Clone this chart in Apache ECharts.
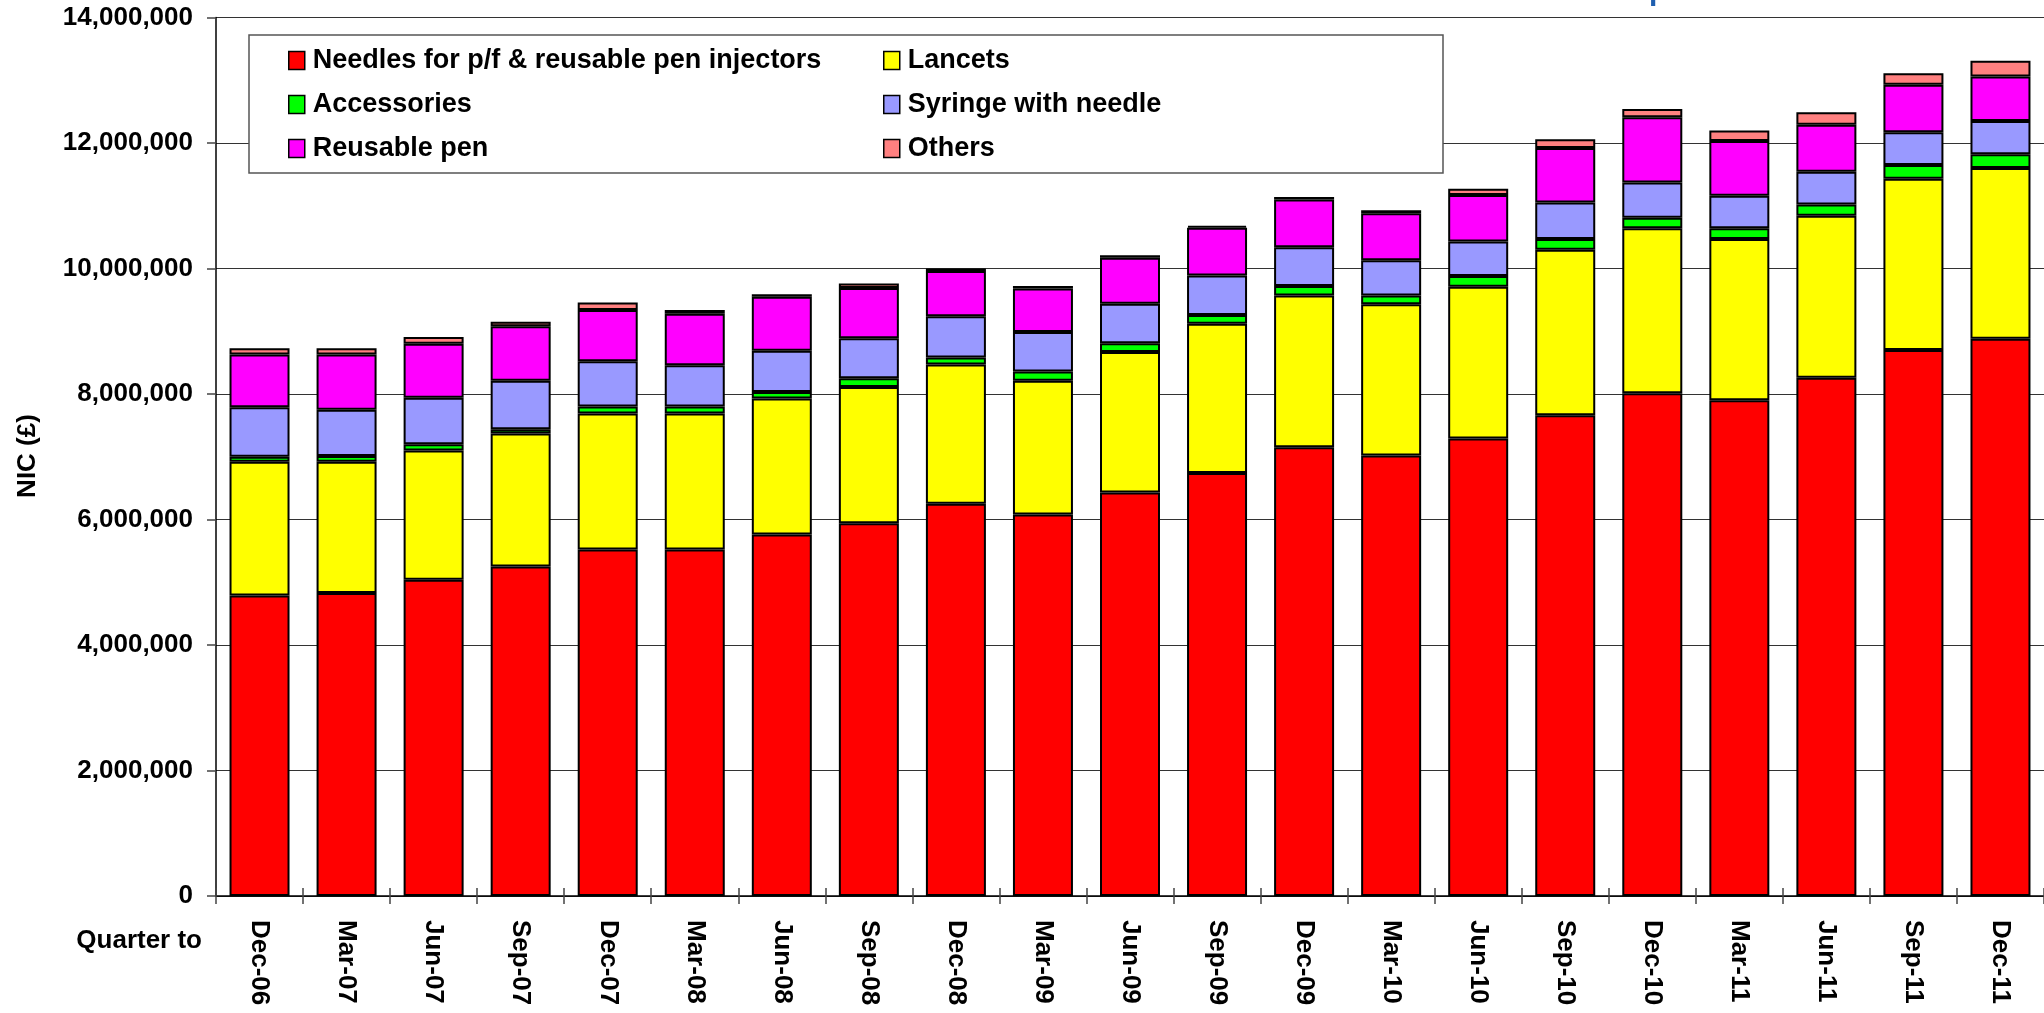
<!DOCTYPE html>
<html>
<head>
<meta charset="utf-8">
<script src="https://cdn.jsdelivr.net/npm/echarts@6/dist/echarts.min.js"></script>
<style>
html,body{margin:0;padding:0;background:#fff;}
#chart{width:2044px;height:1013px;}
</style>
</head>
<body>
<div id="chart"></div>
<script>
const categories = ['Dec-06','Mar-07','Jun-07','Sep-07','Dec-07','Mar-08','Jun-08','Sep-08','Dec-08','Mar-09','Jun-09','Sep-09','Dec-09','Mar-10','Jun-10','Sep-10','Dec-10','Mar-11','Jun-11','Sep-11','Dec-11'];

const needles     = [4790000,4830000,5040000,5250000,5520000,5520000,5760000,5940000,6250000,6080000,6430000,6740000,7150000,7020000,7290000,7660000,8010000,7900000,8260000,8700000,8880000];
const lancets     = [2130000,2090000,2060000,2120000,2170000,2170000,2170000,2170000,2220000,2130000,2240000,2380000,2420000,2410000,2420000,2640000,2630000,2570000,2580000,2730000,2720000];
const accessories = [80000,90000,100000,70000,110000,110000,100000,140000,110000,150000,140000,140000,150000,140000,170000,170000,170000,170000,180000,220000,220000];
const syringe     = [790000,740000,740000,770000,720000,660000,660000,640000,660000,630000,630000,630000,620000,560000,550000,580000,560000,520000,520000,520000,530000];
const reusablePen = [840000,880000,860000,870000,820000,820000,860000,800000,720000,690000,730000,760000,760000,750000,740000,870000,1040000,870000,750000,760000,710000];
const others      = [100000,100000,110000,70000,120000,60000,40000,70000,40000,40000,40000,30000,40000,50000,100000,140000,130000,170000,200000,180000,250000];

const seriesNames = ['Needles for p/f & reusable pen injectors','Lancets','Accessories','Syringe with needle','Reusable pen','Others'];
const seriesColors = ['#FF0000','#FFFF00','#00FF00','#9999FF','#FF00FF','#FF8080'];
const seriesValues = [needles, lancets, accessories, syringe, reusablePen, others];

const yMin = 0, yMax = 14000000, yInterval = 2000000;
const yAxisTitle = 'NIC (£)';
const xAxisTitle = 'Quarter to';

const FONT = "'Liberation Sans', Arial, sans-serif";

const chart = echarts.init(document.getElementById('chart'), null, {renderer:'canvas'});

const series = seriesNames.map((name, i) => ({
  name: name,
  type: 'bar',
  stack: 'total',
  barWidth: 60,
  data: seriesValues[i],
  itemStyle: { color: seriesColors[i], borderColor: '#000', borderWidth: 2 },
  emphasis: { disabled: true }
}));

const legendCommon = {
  orient: 'vertical',
  top: 42,
  itemWidth: 16,
  itemHeight: 18,
  itemGap: 17,
  icon: 'rect',
  z: 20,
  selectedMode: false,
  itemStyle: { borderColor: '#000', borderWidth: 1.5 },
  textStyle: { fontFamily: FONT, fontWeight: 'bold', fontSize: 27, color: '#000', lineHeight: 27, padding: [0,0,0,3] }
};

chart.setOption({
  animation: false,
  backgroundColor: '#fff',
  grid: { left: 216, top: 17.5, width: 1837.5, height: 878.5, containLabel: false },
  legend: [
    Object.assign({}, legendCommon, { left: 283, data: [seriesNames[0], seriesNames[2], seriesNames[4]] }),
    Object.assign({}, legendCommon, { left: 878, data: [seriesNames[1], seriesNames[3], seriesNames[5]] })
  ],
  xAxis: [
    {
      type: 'category',
      position: 'bottom',
      data: categories,
      axisLine: { show: true, lineStyle: { color: '#000', width: 1.5 } },
      axisTick: { show: true, inside: false, length: 8, lineStyle: { color: '#444', width: 1.5 } },
      axisLabel: { interval: 0, rotate: -90, margin: 24, fontFamily: FONT, fontWeight: 'bold', fontSize: 26, color: '#000' },
      splitLine: { show: false }
    },
    {
      type: 'category',
      position: 'bottom',
      data: categories,
      axisLine: { show: false },
      axisTick: { show: true, inside: true, length: 8, lineStyle: { color: '#444', width: 1.5 } },
      axisLabel: { show: false },
      splitLine: { show: false }
    }
  ],
  yAxis: {
    type: 'value',
    min: yMin, max: yMax, interval: yInterval,
    axisLine: { show: true, lineStyle: { color: '#000', width: 1.5 } },
    axisTick: { show: true, inside: false, length: 9, lineStyle: { color: '#444', width: 1.5 } },
    axisLabel: { margin: 23, fontFamily: FONT, fontWeight: 'bold', fontSize: 26, color: '#000',
      formatter: v => v.toLocaleString('en-US') },
    splitLine: { show: true, lineStyle: { color: '#333', width: 1.2 } }
  },
  graphic: [
    { type: 'rect', z: 10, shape: { x: 249, y: 35, width: 1194, height: 138 },
      style: { fill: '#fff', stroke: '#555', lineWidth: 1.5 } },
    { type: 'text', z: 10, x: 28, y: 456, rotation: Math.PI / 2,
      style: { text: yAxisTitle, font: "bold 26px 'Liberation Sans', Arial, sans-serif", fill: '#000', textAlign: 'center', textVerticalAlign: 'middle', align: 'center', verticalAlign: 'middle' } },
    { type: 'text', z: 10, x: 202, y: 941,
      style: { text: xAxisTitle, font: "bold 26px 'Liberation Sans', Arial, sans-serif", fill: '#000', textAlign: 'right', textVerticalAlign: 'middle', align: 'right', verticalAlign: 'middle' } },
    { type: 'text', z: 10, x: 1649, y: -23,
      style: { text: 'p', font: "bold 30px 'Liberation Sans', Arial, sans-serif", fill: '#1F5FAF', textAlign: 'left', textVerticalAlign: 'top', align: 'left', verticalAlign: 'top' } }
  ],
  series: series
});
</script>
</body>
</html>
